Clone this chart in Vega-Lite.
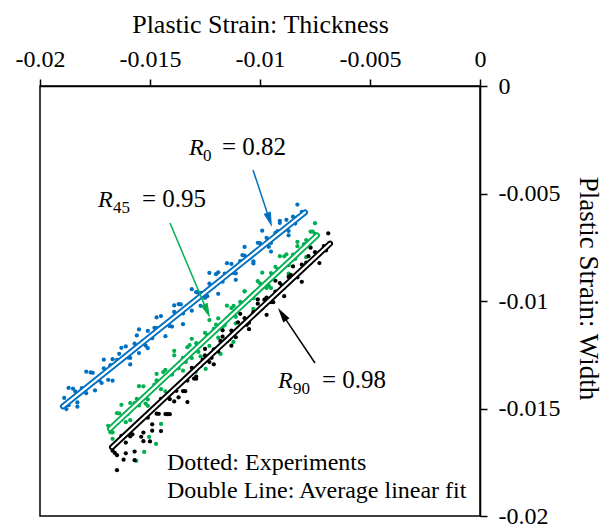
{
  "$schema": "https://vega.github.io/schema/vega-lite/v6.json",
  "autosize": "none",
  "width": 440,
  "height": 430,
  "padding": {"left": 40, "top": 86, "right": 125, "bottom": 16},
  "background": "white",
  "config": {
    "view": {"stroke": "black", "strokeWidth": 1.5},
    "axis": {
      "grid": false,
      "domainColor": "black",
      "domainWidth": 1.5,
      "tickColor": "black",
      "tickWidth": 1.5,
      "tickSize": 7,
      "labelFont": "Liberation Serif",
      "labelFontSize": 24,
      "labelColor": "black",
      "labelFlush": false,
      "titleFont": "Liberation Serif",
      "titleFontWeight": "normal",
      "titleColor": "black"
    }
  },
  "datasets": {
    "pts": [
      {"t": -0.0189, "w": -0.014508, "s": "R0"},
      {"t": -0.0187, "w": -0.014844, "s": "R0"},
      {"t": -0.0185, "w": -0.01408, "s": "R0"},
      {"t": -0.0183, "w": -0.014716, "s": "R0"},
      {"t": -0.0181, "w": -0.014052, "s": "R0"},
      {"t": -0.0179, "w": -0.014288, "s": "R0"},
      {"t": -0.0177, "w": -0.013324, "s": "R0"},
      {"t": -0.0175, "w": -0.01366, "s": "R0"},
      {"t": -0.0173, "w": -0.013696, "s": "R0"},
      {"t": -0.0171, "w": -0.013132, "s": "R0"},
      {"t": -0.0169, "w": -0.013668, "s": "R0"},
      {"t": -0.0167, "w": -0.012704, "s": "R0"},
      {"t": -0.0165, "w": -0.01274, "s": "R0"},
      {"t": -0.0163, "w": -0.012776, "s": "R0"},
      {"t": -0.0161, "w": -0.012112, "s": "R0"},
      {"t": -0.0159, "w": -0.012648, "s": "R0"},
      {"t": -0.0157, "w": -0.011984, "s": "R0"},
      {"t": -0.0155, "w": -0.01242, "s": "R0"},
      {"t": -0.0153, "w": -0.011856, "s": "R0"},
      {"t": -0.0151, "w": -0.011392, "s": "R0"},
      {"t": -0.0149, "w": -0.011728, "s": "R0"},
      {"t": -0.0147, "w": -0.011264, "s": "R0"},
      {"t": -0.0145, "w": -0.0107, "s": "R0"},
      {"t": -0.0143, "w": -0.011136, "s": "R0"},
      {"t": -0.0141, "w": -0.011172, "s": "R0"},
      {"t": -0.0139, "w": -0.010508, "s": "R0"},
      {"t": -0.0137, "w": -0.010144, "s": "R0"},
      {"t": -0.0135, "w": -0.01058, "s": "R0"},
      {"t": -0.0133, "w": -0.010216, "s": "R0"},
      {"t": -0.0131, "w": -0.010452, "s": "R0"},
      {"t": -0.0129, "w": -0.009588, "s": "R0"},
      {"t": -0.0127, "w": -0.009624, "s": "R0"},
      {"t": -0.0125, "w": -0.00986, "s": "R0"},
      {"t": -0.0123, "w": -0.009196, "s": "R0"},
      {"t": -0.0121, "w": -0.009332, "s": "R0"},
      {"t": -0.0119, "w": -0.008668, "s": "R0"},
      {"t": -0.0117, "w": -0.009104, "s": "R0"},
      {"t": -0.0115, "w": -0.00874, "s": "R0"},
      {"t": -0.0113, "w": -0.008276, "s": "R0"},
      {"t": -0.0111, "w": -0.008712, "s": "R0"},
      {"t": -0.0109, "w": -0.008148, "s": "R0"},
      {"t": -0.0107, "w": -0.007884, "s": "R0"},
      {"t": -0.0105, "w": -0.00802, "s": "R0"},
      {"t": -0.0103, "w": -0.008156, "s": "R0"},
      {"t": -0.0101, "w": -0.007292, "s": "R0"},
      {"t": -0.0099, "w": -0.007428, "s": "R0"},
      {"t": -0.0097, "w": -0.007064, "s": "R0"},
      {"t": -0.0095, "w": -0.0073, "s": "R0"},
      {"t": -0.0093, "w": -0.006836, "s": "R0"},
      {"t": -0.0091, "w": -0.006372, "s": "R0"},
      {"t": -0.0089, "w": -0.006708, "s": "R0"},
      {"t": -0.0087, "w": -0.006744, "s": "R0"},
      {"t": -0.0085, "w": -0.00608, "s": "R0"},
      {"t": -0.0083, "w": -0.006116, "s": "R0"},
      {"t": -0.0081, "w": -0.005852, "s": "R0"},
      {"t": -0.0188, "w": -0.015026, "s": "R0"},
      {"t": -0.0184, "w": -0.014198, "s": "R0"},
      {"t": -0.018, "w": -0.01417, "s": "R0"},
      {"t": -0.0176, "w": -0.013342, "s": "R0"},
      {"t": -0.0172, "w": -0.013814, "s": "R0"},
      {"t": -0.0168, "w": -0.012986, "s": "R0"},
      {"t": -0.0164, "w": -0.012458, "s": "R0"},
      {"t": -0.016, "w": -0.01263, "s": "R0"},
      {"t": -0.0156, "w": -0.011602, "s": "R0"},
      {"t": -0.0152, "w": -0.012074, "s": "R0"},
      {"t": -0.0148, "w": -0.011246, "s": "R0"},
      {"t": -0.0144, "w": -0.011118, "s": "R0"},
      {"t": -0.014, "w": -0.01119, "s": "R0"},
      {"t": -0.0136, "w": -0.010162, "s": "R0"},
      {"t": -0.0132, "w": -0.010234, "s": "R0"},
      {"t": -0.0128, "w": -0.009606, "s": "R0"},
      {"t": -0.0124, "w": -0.009778, "s": "R0"},
      {"t": -0.012, "w": -0.00875, "s": "R0"},
      {"t": -0.0116, "w": -0.008722, "s": "R0"},
      {"t": -0.0112, "w": -0.008694, "s": "R0"},
      {"t": -0.0108, "w": -0.007866, "s": "R0"},
      {"t": -0.0104, "w": -0.007938, "s": "R0"},
      {"t": -0.01, "w": -0.00731, "s": "R0"},
      {"t": -0.0096, "w": -0.007482, "s": "R0"},
      {"t": -0.0092, "w": -0.006754, "s": "R0"},
      {"t": -0.0088, "w": -0.006226, "s": "R0"},
      {"t": -0.0084, "w": -0.006398, "s": "R0"},
      {"t": -0.0187, "w": -0.014044, "s": "R0"},
      {"t": -0.0183, "w": -0.014916, "s": "R0"},
      {"t": -0.0179, "w": -0.013288, "s": "R0"},
      {"t": -0.0175, "w": -0.01416, "s": "R0"},
      {"t": -0.0171, "w": -0.012732, "s": "R0"},
      {"t": -0.0167, "w": -0.013704, "s": "R0"},
      {"t": -0.0163, "w": -0.012176, "s": "R0"},
      {"t": -0.0159, "w": -0.012948, "s": "R0"},
      {"t": -0.0155, "w": -0.01132, "s": "R0"},
      {"t": -0.0151, "w": -0.012192, "s": "R0"},
      {"t": -0.0147, "w": -0.010764, "s": "R0"},
      {"t": -0.0143, "w": -0.011636, "s": "R0"},
      {"t": -0.0139, "w": -0.010208, "s": "R0"},
      {"t": -0.0135, "w": -0.01108, "s": "R0"},
      {"t": -0.0131, "w": -0.009452, "s": "R0"},
      {"t": -0.0127, "w": -0.010224, "s": "R0"},
      {"t": -0.0123, "w": -0.008696, "s": "R0"},
      {"t": -0.0119, "w": -0.009668, "s": "R0"},
      {"t": -0.0115, "w": -0.00824, "s": "R0"},
      {"t": -0.0111, "w": -0.009012, "s": "R0"},
      {"t": -0.0107, "w": -0.007484, "s": "R0"},
      {"t": -0.0103, "w": -0.008256, "s": "R0"},
      {"t": -0.0099, "w": -0.006728, "s": "R0"},
      {"t": -0.0095, "w": -0.0077, "s": "R0"},
      {"t": -0.0091, "w": -0.006272, "s": "R0"},
      {"t": -0.0087, "w": -0.006944, "s": "R0"},
      {"t": -0.0083, "w": -0.005516, "s": "R0"},

      {"t": -0.0169, "w": -0.015804, "s": "R45"},
      {"t": -0.0167, "w": -0.016112, "s": "R45"},
      {"t": -0.0165, "w": -0.01522, "s": "R45"},
      {"t": -0.0163, "w": -0.015528, "s": "R45"},
      {"t": -0.0161, "w": -0.015636, "s": "R45"},
      {"t": -0.0159, "w": -0.014744, "s": "R45"},
      {"t": -0.0157, "w": -0.014752, "s": "R45"},
      {"t": -0.0155, "w": -0.01486, "s": "R45"},
      {"t": -0.0153, "w": -0.013968, "s": "R45"},
      {"t": -0.0151, "w": -0.014576, "s": "R45"},
      {"t": -0.0149, "w": -0.014084, "s": "R45"},
      {"t": -0.0147, "w": -0.013692, "s": "R45"},
      {"t": -0.0145, "w": -0.0141, "s": "R45"},
      {"t": -0.0143, "w": -0.013208, "s": "R45"},
      {"t": -0.0141, "w": -0.013416, "s": "R45"},
      {"t": -0.0139, "w": -0.012324, "s": "R45"},
      {"t": -0.0137, "w": -0.013132, "s": "R45"},
      {"t": -0.0135, "w": -0.01264, "s": "R45"},
      {"t": -0.0133, "w": -0.012148, "s": "R45"},
      {"t": -0.0131, "w": -0.012656, "s": "R45"},
      {"t": -0.0129, "w": -0.011964, "s": "R45"},
      {"t": -0.0127, "w": -0.012072, "s": "R45"},
      {"t": -0.0125, "w": -0.01148, "s": "R45"},
      {"t": -0.0123, "w": -0.012088, "s": "R45"},
      {"t": -0.0121, "w": -0.011296, "s": "R45"},
      {"t": -0.0119, "w": -0.010804, "s": "R45"},
      {"t": -0.0117, "w": -0.011212, "s": "R45"},
      {"t": -0.0115, "w": -0.01082, "s": "R45"},
      {"t": -0.0113, "w": -0.010328, "s": "R45"},
      {"t": -0.0111, "w": -0.010736, "s": "R45"},
      {"t": -0.0109, "w": -0.010044, "s": "R45"},
      {"t": -0.0107, "w": -0.009552, "s": "R45"},
      {"t": -0.0105, "w": -0.00996, "s": "R45"},
      {"t": -0.0103, "w": -0.009868, "s": "R45"},
      {"t": -0.0101, "w": -0.009076, "s": "R45"},
      {"t": -0.0099, "w": -0.009284, "s": "R45"},
      {"t": -0.0097, "w": -0.009392, "s": "R45"},
      {"t": -0.0095, "w": -0.0087, "s": "R45"},
      {"t": -0.0093, "w": -0.008408, "s": "R45"},
      {"t": -0.0091, "w": -0.008616, "s": "R45"},
      {"t": -0.0089, "w": -0.007924, "s": "R45"},
      {"t": -0.0087, "w": -0.008332, "s": "R45"},
      {"t": -0.0085, "w": -0.00784, "s": "R45"},
      {"t": -0.0083, "w": -0.007448, "s": "R45"},
      {"t": -0.0081, "w": -0.007656, "s": "R45"},
      {"t": -0.0079, "w": -0.007164, "s": "R45"},
      {"t": -0.0077, "w": -0.006772, "s": "R45"},
      {"t": -0.0075, "w": -0.00688, "s": "R45"},
      {"t": -0.0168, "w": -0.016108, "s": "R45"},
      {"t": -0.0164, "w": -0.015224, "s": "R45"},
      {"t": -0.016, "w": -0.01524, "s": "R45"},
      {"t": -0.0156, "w": -0.014556, "s": "R45"},
      {"t": -0.0152, "w": -0.014772, "s": "R45"},
      {"t": -0.0148, "w": -0.013888, "s": "R45"},
      {"t": -0.0144, "w": -0.013304, "s": "R45"},
      {"t": -0.014, "w": -0.01342, "s": "R45"},
      {"t": -0.0136, "w": -0.012836, "s": "R45"},
      {"t": -0.0132, "w": -0.012052, "s": "R45"},
      {"t": -0.0128, "w": -0.012368, "s": "R45"},
      {"t": -0.0124, "w": -0.011584, "s": "R45"},
      {"t": -0.012, "w": -0.0111, "s": "R45"},
      {"t": -0.0116, "w": -0.011116, "s": "R45"},
      {"t": -0.0112, "w": -0.010232, "s": "R45"},
      {"t": -0.0108, "w": -0.010248, "s": "R45"},
      {"t": -0.0104, "w": -0.009764, "s": "R45"},
      {"t": -0.01, "w": -0.00918, "s": "R45"},
      {"t": -0.0096, "w": -0.009296, "s": "R45"},
      {"t": -0.0092, "w": -0.008512, "s": "R45"},
      {"t": -0.0088, "w": -0.007828, "s": "R45"},
      {"t": -0.0084, "w": -0.008044, "s": "R45"},
      {"t": -0.008, "w": -0.00736, "s": "R45"},
      {"t": -0.0076, "w": -0.006776, "s": "R45"},
      {"t": -0.0167, "w": -0.016412, "s": "R45"},
      {"t": -0.0163, "w": -0.014828, "s": "R45"},
      {"t": -0.0159, "w": -0.015544, "s": "R45"},
      {"t": -0.0155, "w": -0.01396, "s": "R45"},
      {"t": -0.0151, "w": -0.014876, "s": "R45"},
      {"t": -0.0147, "w": -0.013392, "s": "R45"},
      {"t": -0.0143, "w": -0.014208, "s": "R45"},
      {"t": -0.0139, "w": -0.012524, "s": "R45"},
      {"t": -0.0135, "w": -0.01324, "s": "R45"},
      {"t": -0.0131, "w": -0.011756, "s": "R45"},
      {"t": -0.0127, "w": -0.012572, "s": "R45"},
      {"t": -0.0123, "w": -0.010888, "s": "R45"},
      {"t": -0.0119, "w": -0.011704, "s": "R45"},
      {"t": -0.0115, "w": -0.01022, "s": "R45"},
      {"t": -0.0111, "w": -0.011036, "s": "R45"},
      {"t": -0.0107, "w": -0.009552, "s": "R45"},
      {"t": -0.0103, "w": -0.010368, "s": "R45"},
      {"t": -0.0099, "w": -0.008684, "s": "R45"},
      {"t": -0.0095, "w": -0.0094, "s": "R45"},
      {"t": -0.0091, "w": -0.007916, "s": "R45"},
      {"t": -0.0087, "w": -0.008732, "s": "R45"},
      {"t": -0.0083, "w": -0.007248, "s": "R45"},
      {"t": -0.0079, "w": -0.007964, "s": "R45"},
      {"t": -0.0075, "w": -0.00638, "s": "R45"},
      {"t": -0.015625, "w": -0.017438, "s": "R45"},
      {"t": -0.015265, "w": -0.017019, "s": "R45"},
      {"t": -0.014724, "w": -0.016647, "s": "R45"},
      {"t": -0.014498, "w": -0.015717, "s": "R45"},
      {"t": -0.01504, "w": -0.016322, "s": "R45"},
      {"t": -0.013371, "w": -0.012834, "s": "R45"},
      {"t": -0.01292, "w": -0.013299, "s": "R45"},
      {"t": -0.012469, "w": -0.01316, "s": "R45"},
      {"t": -0.011793, "w": -0.012462, "s": "R45"},
      {"t": -0.011206, "w": -0.011904, "s": "R45"},

      {"t": -0.0167, "w": -0.016962, "s": "R90"},
      {"t": -0.0165, "w": -0.01717, "s": "R90"},
      {"t": -0.0163, "w": -0.016278, "s": "R90"},
      {"t": -0.0161, "w": -0.017086, "s": "R90"},
      {"t": -0.0159, "w": -0.016294, "s": "R90"},
      {"t": -0.0157, "w": -0.017002, "s": "R90"},
      {"t": -0.0155, "w": -0.01561, "s": "R90"},
      {"t": -0.0153, "w": -0.016118, "s": "R90"},
      {"t": -0.0151, "w": -0.015426, "s": "R90"},
      {"t": -0.0149, "w": -0.016034, "s": "R90"},
      {"t": -0.0147, "w": -0.015242, "s": "R90"},
      {"t": -0.0145, "w": -0.01455, "s": "R90"},
      {"t": -0.0143, "w": -0.015258, "s": "R90"},
      {"t": -0.0141, "w": -0.014566, "s": "R90"},
      {"t": -0.0139, "w": -0.014674, "s": "R90"},
      {"t": -0.0137, "w": -0.013882, "s": "R90"},
      {"t": -0.0135, "w": -0.01419, "s": "R90"},
      {"t": -0.0133, "w": -0.013698, "s": "R90"},
      {"t": -0.0131, "w": -0.013106, "s": "R90"},
      {"t": -0.0129, "w": -0.013514, "s": "R90"},
      {"t": -0.0127, "w": -0.013022, "s": "R90"},
      {"t": -0.0125, "w": -0.01253, "s": "R90"},
      {"t": -0.0123, "w": -0.012838, "s": "R90"},
      {"t": -0.0121, "w": -0.012246, "s": "R90"},
      {"t": -0.0119, "w": -0.012354, "s": "R90"},
      {"t": -0.0117, "w": -0.011662, "s": "R90"},
      {"t": -0.0115, "w": -0.01187, "s": "R90"},
      {"t": -0.0113, "w": -0.011378, "s": "R90"},
      {"t": -0.0111, "w": -0.011686, "s": "R90"},
      {"t": -0.0109, "w": -0.011194, "s": "R90"},
      {"t": -0.0107, "w": -0.010802, "s": "R90"},
      {"t": -0.0105, "w": -0.01101, "s": "R90"},
      {"t": -0.0103, "w": -0.010518, "s": "R90"},
      {"t": -0.0101, "w": -0.010126, "s": "R90"},
      {"t": -0.0099, "w": -0.010334, "s": "R90"},
      {"t": -0.0097, "w": -0.009842, "s": "R90"},
      {"t": -0.0095, "w": -0.01005, "s": "R90"},
      {"t": -0.0093, "w": -0.009558, "s": "R90"},
      {"t": -0.0091, "w": -0.009166, "s": "R90"},
      {"t": -0.0089, "w": -0.009374, "s": "R90"},
      {"t": -0.0087, "w": -0.008882, "s": "R90"},
      {"t": -0.0085, "w": -0.00889, "s": "R90"},
      {"t": -0.0083, "w": -0.008898, "s": "R90"},
      {"t": -0.0081, "w": -0.008306, "s": "R90"},
      {"t": -0.0079, "w": -0.008214, "s": "R90"},
      {"t": -0.0077, "w": -0.008222, "s": "R90"},
      {"t": -0.0075, "w": -0.00773, "s": "R90"},
      {"t": -0.0073, "w": -0.007738, "s": "R90"},
      {"t": -0.0071, "w": -0.007446, "s": "R90"},
      {"t": -0.0069, "w": -0.007454, "s": "R90"},
      {"t": -0.0166, "w": -0.017066, "s": "R90"},
      {"t": -0.0162, "w": -0.017382, "s": "R90"},
      {"t": -0.0158, "w": -0.016198, "s": "R90"},
      {"t": -0.0154, "w": -0.016314, "s": "R90"},
      {"t": -0.015, "w": -0.01653, "s": "R90"},
      {"t": -0.0146, "w": -0.015246, "s": "R90"},
      {"t": -0.0142, "w": -0.015262, "s": "R90"},
      {"t": -0.0138, "w": -0.014178, "s": "R90"},
      {"t": -0.0134, "w": -0.014194, "s": "R90"},
      {"t": -0.013, "w": -0.01361, "s": "R90"},
      {"t": -0.0126, "w": -0.012726, "s": "R90"},
      {"t": -0.0122, "w": -0.012642, "s": "R90"},
      {"t": -0.0118, "w": -0.011858, "s": "R90"},
      {"t": -0.0114, "w": -0.011774, "s": "R90"},
      {"t": -0.011, "w": -0.01099, "s": "R90"},
      {"t": -0.0106, "w": -0.011106, "s": "R90"},
      {"t": -0.0102, "w": -0.010522, "s": "R90"},
      {"t": -0.0098, "w": -0.009938, "s": "R90"},
      {"t": -0.0094, "w": -0.010054, "s": "R90"},
      {"t": -0.009, "w": -0.00927, "s": "R90"},
      {"t": -0.0086, "w": -0.008786, "s": "R90"},
      {"t": -0.0082, "w": -0.008702, "s": "R90"},
      {"t": -0.0078, "w": -0.007918, "s": "R90"},
      {"t": -0.0074, "w": -0.007834, "s": "R90"},
      {"t": -0.007, "w": -0.00765, "s": "R90"},
      {"t": -0.0165, "w": -0.01787, "s": "R90"},
      {"t": -0.0161, "w": -0.016586, "s": "R90"},
      {"t": -0.0157, "w": -0.017402, "s": "R90"},
      {"t": -0.0153, "w": -0.016518, "s": "R90"},
      {"t": -0.0149, "w": -0.015734, "s": "R90"},
      {"t": -0.0145, "w": -0.01605, "s": "R90"},
      {"t": -0.0141, "w": -0.015266, "s": "R90"},
      {"t": -0.0137, "w": -0.014482, "s": "R90"},
      {"t": -0.0133, "w": -0.014698, "s": "R90"},
      {"t": -0.0129, "w": -0.013614, "s": "R90"},
      {"t": -0.0125, "w": -0.01223, "s": "R90"},
      {"t": -0.0121, "w": -0.012946, "s": "R90"},
      {"t": -0.0117, "w": -0.011362, "s": "R90"},
      {"t": -0.0113, "w": -0.012078, "s": "R90"},
      {"t": -0.0109, "w": -0.010594, "s": "R90"},
      {"t": -0.0105, "w": -0.01131, "s": "R90"},
      {"t": -0.0101, "w": -0.009926, "s": "R90"},
      {"t": -0.0097, "w": -0.010642, "s": "R90"},
      {"t": -0.0093, "w": -0.009058, "s": "R90"},
      {"t": -0.0089, "w": -0.009774, "s": "R90"},
      {"t": -0.0085, "w": -0.00839, "s": "R90"},
      {"t": -0.0081, "w": -0.009106, "s": "R90"},
      {"t": -0.0077, "w": -0.007522, "s": "R90"},
      {"t": -0.0073, "w": -0.008238, "s": "R90"},
      {"t": -0.0069, "w": -0.006854, "s": "R90"}
    ],
    "fit": [
      {"t": -0.018955, "w": -0.0149, "s": "R0"},
      {"t": -0.007955, "w": -0.00588, "s": "R0"},
      {"t": -0.016818, "w": -0.01595, "s": "R45"},
      {"t": -0.007409, "w": -0.00695, "s": "R45"},
      {"t": -0.016727, "w": -0.0168, "s": "R90"},
      {"t": -0.006818, "w": -0.00733, "s": "R90"}
    ],
    "arrows": [
      {"t": -0.010318, "w": -0.003907, "t2": -0.009564, "w2": -0.006228, "angle": 161.6, "s": "R0"},
      {"t": -0.014091, "w": -0.006372, "t2": -0.012405, "w2": -0.01047, "angle": 157.2, "s": "R45"},
      {"t": -0.0075, "w": -0.012884, "t2": -0.008991, "w2": -0.010614, "angle": 326, "s": "R90"}
    ],
    "rsym": [
      {"t": -0.013227, "w": -0.003209, "txt": "R"},
      {"t": -0.017364, "w": -0.005628, "txt": "R"},
      {"t": -0.009182, "w": -0.014047, "txt": "R"}
    ],
    "rsub": [
      {"t": -0.012591, "w": -0.003488, "txt": "0"},
      {"t": -0.016682, "w": -0.005907, "txt": "45"},
      {"t": -0.0085, "w": -0.014326, "txt": "90"}
    ],
    "rval": [
      {"t": -0.011727, "w": -0.003209, "txt": "= 0.82"},
      {"t": -0.015364, "w": -0.005628, "txt": "= 0.95"},
      {"t": -0.007182, "w": -0.014047, "txt": "= 0.98"}
    ],
    "notes": [
      {"t": -0.014227, "w": -0.01786, "txt": "Dotted: Experiments"},
      {"t": -0.014227, "w": -0.019163, "txt": "Double Line: Average linear fit"}
    ]
  },
  "encoding": {
    "x": {
      "field": "t", "type": "quantitative",
      "scale": {"domain": [-0.02, 0], "nice": false, "zero": false},
      "axis": {
        "orient": "top",
        "title": "Plastic Strain: Thickness",
        "titleFontSize": 26,
        "values": [-0.02, -0.015, -0.01, -0.005, 0],
        "labelExpr": "datum.value == 0 ? '0' : '-' + format(-datum.value, '~g')",
        "labelPadding": 8,
        "titlePadding": 10
      }
    },
    "y": {
      "field": "w", "type": "quantitative",
      "scale": {"domain": [-0.02, 0], "nice": false, "zero": false},
      "axis": {
        "orient": "right",
        "title": "Plastic Strain: Width",
        "titleFontSize": 27,
        "titleAngle": 90,
        "titleY": 202,
        "values": [-0.02, -0.015, -0.01, -0.005, 0],
        "labelExpr": "datum.value == 0 ? '0' : '-' + format(-datum.value, '~g')",
        "labelPadding": 11,
        "titlePadding": 14
      }
    }
  },
  "layer": [
    {
      "data": {"name": "pts"},
      "mark": {"type": "circle", "size": 18, "opacity": 1},
      "encoding": {
        "color": {"field": "s", "type": "nominal", "legend": null,
          "scale": {"domain": ["R0", "R45", "R90"], "range": ["#0070C0", "#00B050", "#000000"]}}
      }
    },
    {
      "data": {"name": "fit"},
      "mark": {"type": "line", "strokeWidth": 6, "strokeCap": "round"},
      "encoding": {
        "color": {"field": "s", "type": "nominal", "legend": null,
          "scale": {"domain": ["R0", "R45", "R90"], "range": ["#0070C0", "#00B050", "#000000"]}}
      }
    },
    {
      "data": {"name": "fit"},
      "mark": {"type": "line", "strokeWidth": 2.2, "strokeCap": "round", "color": "white"},
      "encoding": {"detail": {"field": "s"}}
    },
    {
      "data": {"name": "arrows"},
      "mark": {"type": "rule", "strokeWidth": 1.5},
      "encoding": {
        "x2": {"field": "t2"},
        "y2": {"field": "w2"},
        "color": {"field": "s", "type": "nominal", "legend": null,
          "scale": {"domain": ["R0", "R45", "R90"], "range": ["#0070C0", "#00B050", "#000000"]}}
      }
    },
    {
      "data": {"name": "arrows"},
      "mark": {"type": "point", "filled": true, "opacity": 1, "size": 225, "shape": "M0,-1L0.5,1L-0.5,1Z"},
      "encoding": {
        "x": {"field": "t2", "type": "quantitative"},
        "y": {"field": "w2", "type": "quantitative"},
        "angle": {"field": "angle", "type": "quantitative", "scale": null},
        "color": {"field": "s", "type": "nominal", "legend": null,
          "scale": {"domain": ["R0", "R45", "R90"], "range": ["#0070C0", "#00B050", "#000000"]}}
      }
    },
    {
      "data": {"name": "rsym"},
      "mark": {"type": "text", "align": "left", "baseline": "alphabetic", "font": "Liberation Serif", "fontStyle": "italic", "fontSize": 24, "color": "black"},
      "encoding": {"text": {"field": "txt"}}
    },
    {
      "data": {"name": "rsub"},
      "mark": {"type": "text", "align": "left", "baseline": "alphabetic", "font": "Liberation Serif", "fontSize": 17, "color": "black"},
      "encoding": {"text": {"field": "txt"}}
    },
    {
      "data": {"name": "rval"},
      "mark": {"type": "text", "align": "left", "baseline": "alphabetic", "font": "Liberation Serif", "fontSize": 25, "color": "black"},
      "encoding": {"text": {"field": "txt"}}
    },
    {
      "data": {"name": "notes"},
      "mark": {"type": "text", "align": "left", "baseline": "alphabetic", "font": "Liberation Serif", "fontSize": 24, "color": "black"},
      "encoding": {"text": {"field": "txt"}}
    }
  ]
}
